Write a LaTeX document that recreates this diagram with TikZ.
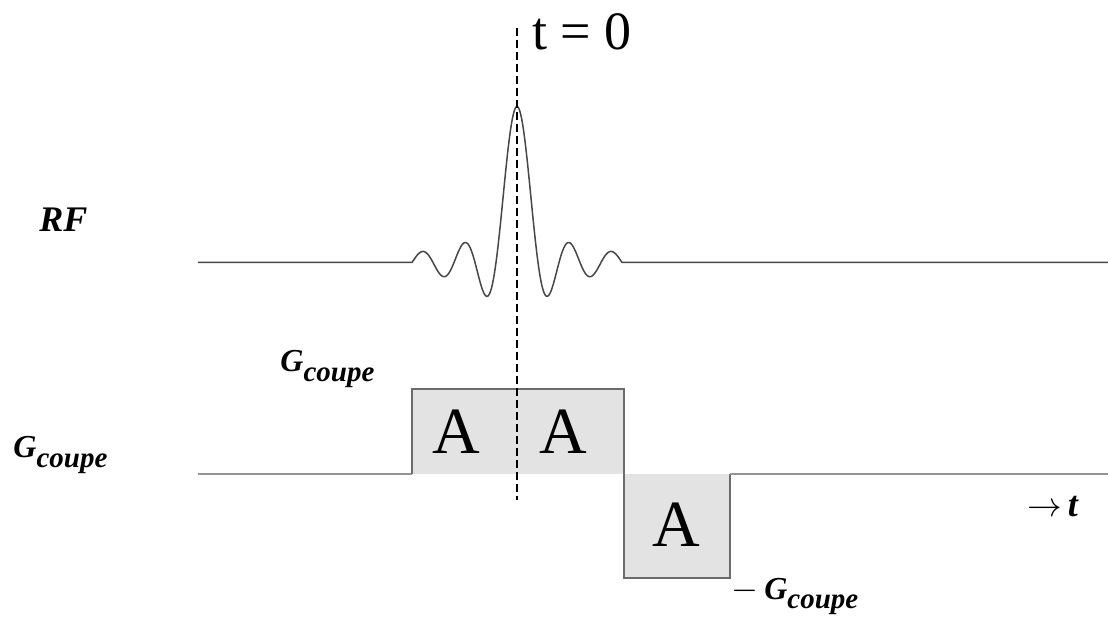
\documentclass[tikz,border=0pt]{standalone}
\usepackage{fontspec}
\setmainfont{Liberation Serif}
\usepackage{tikz}
\usetikzlibrary{positioning}
\newcommand{\gcoupe}{%
  {\fontsize{16}{16}\selectfont G}\raisebox{-5pt}{\fontsize{14.5}{14.5}\selectfont coupe}%
}

\begin{document}
\begin{tikzpicture}[
  x=0.5pt, y=-0.5pt,
  wave/.style={
    draw=black!72,
    line width=0.75pt
  },
  grad/.style={
    draw=black!42,
    line width=0.7pt
  },
  gradedge/.style={
    grad,
    draw=black!58
  },
  block/.style={
    fill=black!11
  },
  tzeroline/.style={
    draw=black,
    line width=0.7pt,
    dash pattern=on 4pt off 2pt
  },
  lab/.style={
    font=\bfseries\itshape,
    inner sep=0pt
  },
  area/.style={
    font=\fontsize{33}{33}\selectfont,
    inner sep=0pt
  }
]
\useasboundingbox (0,0) rectangle (1108,619);

% Gradient lobes
\fill[block] (412,389) rectangle (624,474);
\fill[block] (624,474) rectangle (730,578);
\draw[grad] (198,474) -- (412,474);
\draw[gradedge] (412,474) -- (412,389) -- (624,389) -- (624,578) -- (730,578) -- (730,474);
\draw[grad] (730,474) -- (1108,474);

% RF pulse (sinc)
\draw[wave] (198,262.5) -- plot[domain=-5:5, samples=200]
  ({517+21*\x},{262.5-156*sin(180*\x)/(pi*\x)}) -- (1108,262.5);

% t = 0 marker
\coordinate (ttop) at (517,28);
\coordinate (tbot) at (517,500);
\draw[tzeroline] (ttop) -- (tbot);
\node[font=\fontsize{27}{27}\selectfont, inner sep=0pt] (tzero) at (582,32) {t = 0};

% Areas
\node[area] (a1) at (456,432) {A};
\node[area] (a2) at (563,432) {A};
\node[area] (a3) at (676,525) {A};

% Labels
\node[lab, anchor=base west, font=\fontsize{18}{18}\selectfont\bfseries\itshape] (rf) at (39,232) {RF};
\node[lab, anchor=base west] (gleft) at (13,458) {\gcoupe};
\node[lab, anchor=base west] (gup) at (280,372) {\gcoupe};
\node[lab, anchor=base west] (gdown) at (731,599) {{\fontsize{17}{17}\selectfont$-$}\hspace{3pt}\gcoupe};
\node[lab, anchor=base west, font=\fontsize{18}{18}\selectfont\bfseries\itshape] (taxis) at (1027,517) {{\fontsize{16}{16}\selectfont$\rightarrow$}\hspace{3pt}t};

\end{tikzpicture}
\end{document}
